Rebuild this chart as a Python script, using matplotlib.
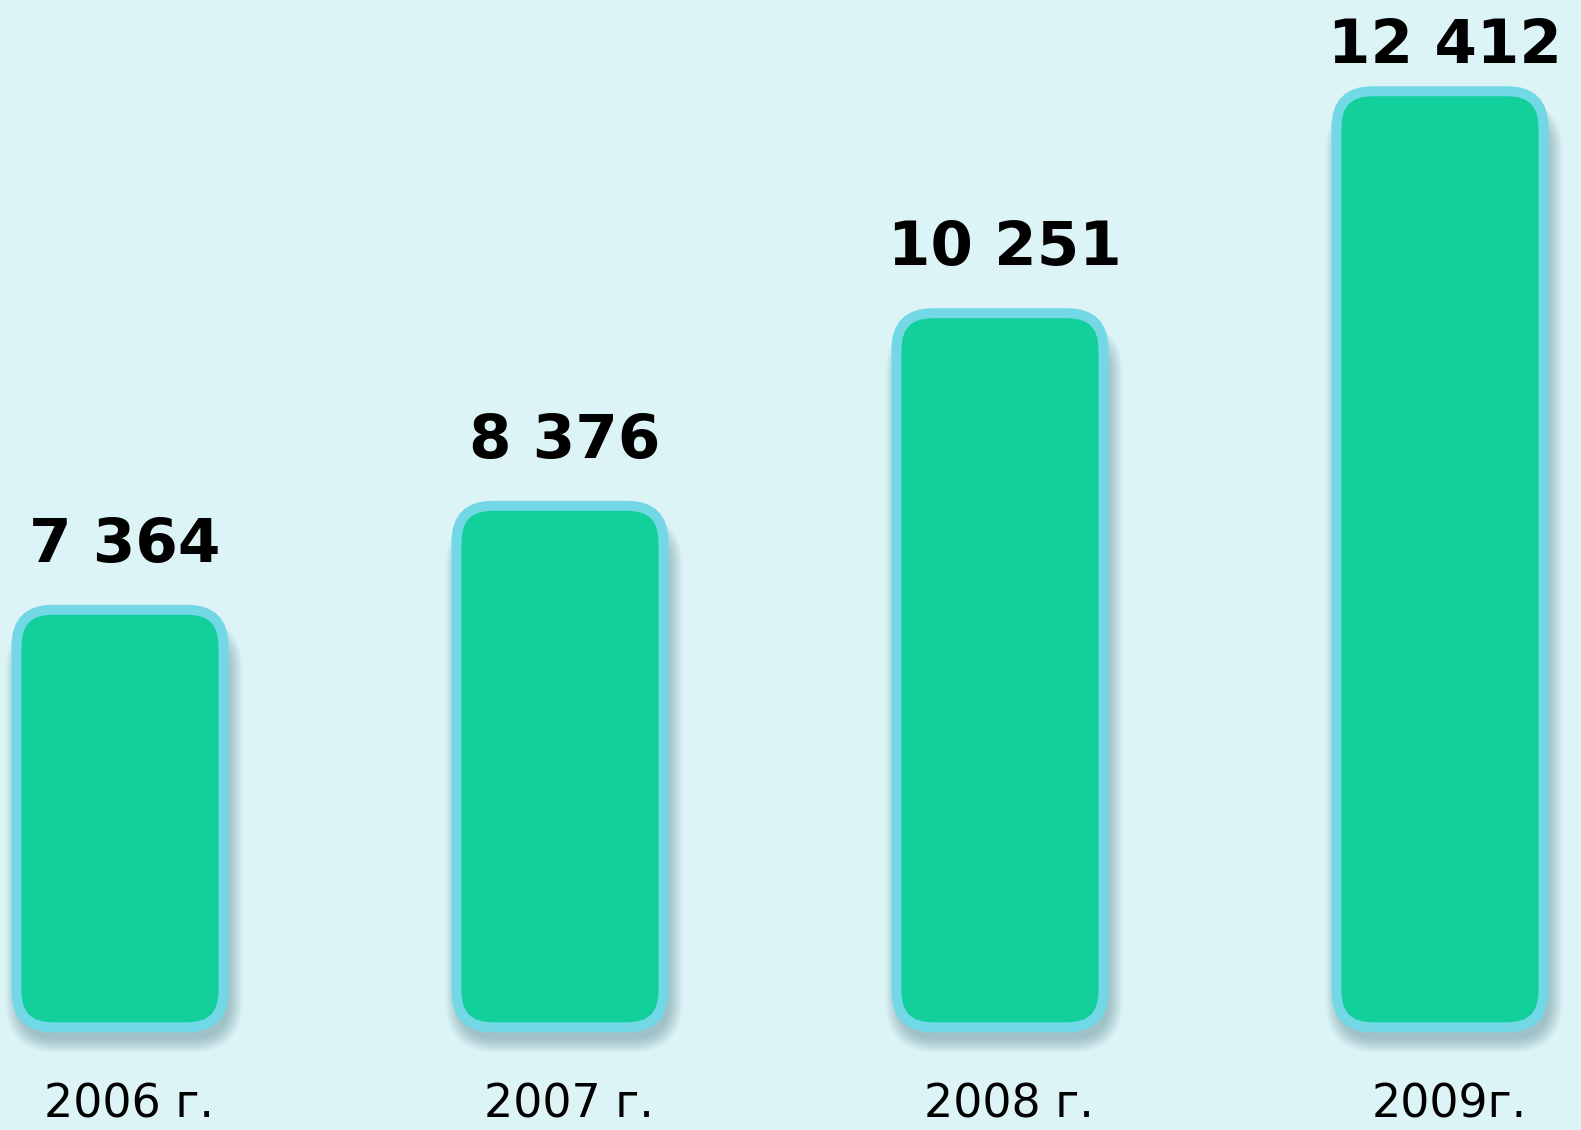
import matplotlib
matplotlib.use("Agg")
import matplotlib.pyplot as plt
from matplotlib.patches import FancyBboxPatch

# Data
years = ["2006 г.", "2007 г.", "2008 г.", "2009г."]
values = [7364, 8376, 10251, 12412]
value_labels = ["7 364", "8 376", "10 251", "12 412"]

# Style
BG = "#DDF4F7"
FILL = "#12CF9B"
EDGE = "#72D8E6"
SHADOW = "#4f7f8c"

W_PX, H_PX, DPI = 1581, 1130, 100
XMIN, XMAX = -0.2727, 3.3205
YMIN, YMAX = 2300, 13300

fig = plt.figure(figsize=(W_PX / DPI, H_PX / DPI), dpi=DPI, facecolor=BG)
ax = fig.add_axes([0, 0, 1, 1])
ax.set_facecolor(BG)
ax.set_xlim(XMIN, XMAX)
ax.set_ylim(YMIN, YMAX)
ax.axis("off")

baseline = 3300
x = list(range(len(values)))

# data units per pixel
ux = (XMAX - XMIN) / W_PX
uy = (YMAX - YMIN) / H_PX
aspect = uy / ux

bar_w_px = 207
radius_px = 36
edge_px = 10

bars = ax.bar(x, [v - baseline for v in values], width=bar_w_px * ux,
              bottom=baseline, color="none", edgecolor="none")

for rect, v, lab in zip(bars, values, value_labels):
    x0, y0 = rect.get_x(), rect.get_y()
    w, h = rect.get_width(), rect.get_height()

    # soft drop shadow: stacked translucent rounded boxes shifted down-right
    for k in range(10):
        grow = (k + 1) * 1.5
        sh = FancyBboxPatch(
            (x0 - grow * ux + 4 * ux, y0 - grow * uy - 10 * uy),
            w + 2 * grow * ux, h + 2 * grow * uy - 14 * uy,
            boxstyle=f"round,pad=0,rounding_size={(radius_px + grow) * ux}",
            mutation_aspect=aspect, facecolor=SHADOW, edgecolor="none",
            alpha=0.05, zorder=1)
        ax.add_patch(sh)

    patch = FancyBboxPatch(
        (x0, y0), w, h,
        boxstyle=f"round,pad=0,rounding_size={radius_px * ux}",
        mutation_aspect=aspect, facecolor=FILL, edgecolor=EDGE,
        linewidth=edge_px * 72 / DPI, zorder=3)
    ax.add_patch(patch)

    # value label above the bar, kept inside the canvas
    ly = min(v + 48 * uy, YMAX - 63 * uy)
    ax.text(x0 + w / 2 + 5 * ux, ly, lab, ha="center", va="baseline",
            fontsize=44, fontweight="bold", family="DejaVu Sans",
            color="black", zorder=4)

for xi, yr in zip(x, years):
    ax.text(xi + 0.02, YMAX - 1118 * uy, yr, ha="center", va="baseline",
            fontsize=33, family="DejaVu Sans", color="black", zorder=4)

fig.savefig("out.png", dpi=DPI, facecolor=BG)
